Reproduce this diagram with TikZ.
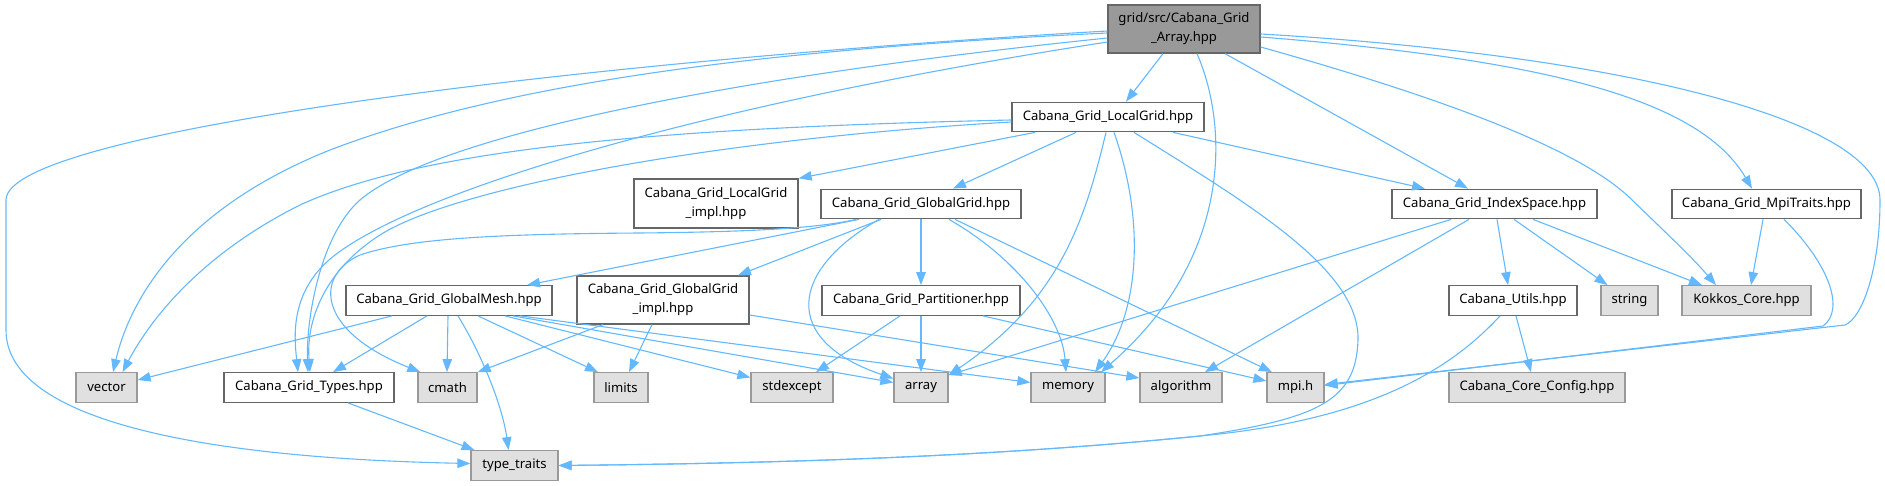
\documentclass[tikz,border=0pt]{standalone}
\usepackage{fontspec}
\setmainfont{Noto Sans}
\usetikzlibrary{arrows.meta}
\definecolor{edgecol}{HTML}{63B8FF}
\definecolor{boxborder}{HTML}{666666}
\definecolor{sysborder}{HTML}{999999}
\definecolor{sysfill}{HTML}{E0E0E0}
\definecolor{rootfill}{HTML}{999999}
\tikzset{
  box/.style={draw=boxborder, fill=white, line width=1.3pt, inner sep=0pt,
    font=\fontsize{13.1}{19}\selectfont, align=center, minimum height=29.5pt},
  sys/.style={box, draw=sysborder, fill=sysfill},
  rootbox/.style={box, draw=boxborder, fill=rootfill},
  dep/.style={draw=edgecol, line width=1.1pt, -{Triangle[length=13pt,width=9.5pt]}},
}
\begin{document}
\begin{tikzpicture}[x=1pt,y=-1pt]
\useasboundingbox (0,0) rectangle (1885,486);
% nodes
\node[rootbox, minimum width=152pt, minimum height=48pt] (root) at (1184,29) {grid/src/Cabana\_Grid\\\_Array.hpp};
\node[box, minimum width=192pt] (LG) at (1108,117) {Cabana\_Grid\_LocalGrid.hpp};
\node[box, minimum width=164pt, minimum height=49pt] (LGI) at (716,203.5) {Cabana\_Grid\_LocalGrid\\\_impl.hpp};
\node[box, minimum width=200pt] (GG) at (921,204) {Cabana\_Grid\_GlobalGrid.hpp};
\node[box, minimum width=205pt] (IS) at (1494.5,204) {Cabana\_Grid\_IndexSpace.hpp};
\node[box, minimum width=189pt] (MT) at (1766.5,204) {Cabana\_Grid\_MpiTraits.hpp};
\node[box, minimum width=206pt] (GM) at (449,300.5) {Cabana\_Grid\_GlobalMesh.hpp};
\node[box, minimum width=172pt, minimum height=48pt] (GGI) at (663,300) {Cabana\_Grid\_GlobalGrid\\\_impl.hpp};
\node[box, minimum width=198pt] (PT) at (921,300.5) {Cabana\_Grid\_Partitioner.hpp};
\node[box, minimum width=128pt] (UT) at (1513,300.5) {Cabana\_Utils.hpp};
\node[sys, minimum width=57pt] (str) at (1629.5,300.5) {string};
\node[sys, minimum width=129pt] (KC) at (1746.5,300.5) {Kokkos\_Core.hpp};
\node[sys, minimum width=61pt] (vector) at (106.5,387.5) {vector};
\node[box, minimum width=170pt] (Types) at (309,387.5) {Cabana\_Grid\_Types.hpp};
\node[sys, minimum width=59pt] (cmath) at (447.5,387.5) {cmath};
\node[sys, minimum width=54pt] (limits) at (621,387.5) {limits};
\node[sys, minimum width=82pt] (stdexcept) at (792,387.5) {stdexcept};
\node[sys, minimum width=54pt] (array) at (921,387.5) {array};
\node[sys, minimum width=74pt] (memory) at (1068,387.5) {memory};
\node[sys, minimum width=82pt] (algorithm) at (1181,387.5) {algorithm};
\node[sys, minimum width=57pt] (mpih) at (1295.5,387.5) {mpi.h};
\node[sys, minimum width=176pt] (CCC) at (1537,387.5) {Cabana\_Core\_Config.hpp};
\node[sys, minimum width=87pt] (tt) at (514.5,465.5) {type\_traits};
% root edges
\draw[dep] ([yshift=-2pt]root.west) .. controls (600,60) and (6,130) .. (6,200) -- (6,330) .. controls (6,420) and (200,458) .. ([yshift=2pt]tt.west);
\draw[dep] ([yshift=-4pt]root.west) .. controls (750,50) and (500,85) .. (330,150) .. controls (180,210) and (130,300) .. ([xshift=6.5pt]vector.north);
\draw[dep] ([yshift=-9pt]root.west) .. controls (700,80) and (430,140) .. (360,200) .. controls (320,235) and (306,320) .. ([xshift=-1pt]Types.north);
\draw[dep] ([yshift=-13pt]root.west) .. controls (700,105) and (420,190) .. (335,255) .. controls (290,290) and (294,335) .. ([xshift=-11pt]Types.north);
\draw[dep] ([xshift=-21pt]root.south) -- ([xshift=18pt]LG.north);
\draw[dep] ([xshift=13pt]root.south) .. controls (1230,130) and (1230,260) .. ([xshift=33pt]memory.north);
\draw[dep] ([xshift=41pt]root.south) -- ([xshift=-26.5pt]IS.north);
\draw[dep] ([yshift=-18pt]root.east) .. controls (1450,100) and (1580,150) .. (1630,198) .. controls (1665,232) and (1690,255) .. ([xshift=-30.5pt]KC.north);
\draw[dep] ([yshift=-8pt]root.east) .. controls (1550,60) and (1700,100) .. ([xshift=-14.5pt]MT.north);
\draw[dep] ([yshift=-5pt]root.east) .. controls (1620,55) and (1880,120) .. (1880,200) .. controls (1880,270) and (1862,318) .. (1845,325) -- ([yshift=3pt]mpih.east);
% MpiTraits
\draw[dep] ([xshift=17.5pt]MT.south) .. controls (1830,265) and (1845,310) .. (1823,326) -- ([yshift=2pt]mpih.east);
\draw[dep] ([xshift=-3.5pt]MT.south) -- ([xshift=4.5pt]KC.north);
% LocalGrid
\draw[dep] ([yshift=-3pt]LG.west) .. controls (650,128) and (420,150) .. (300,205) .. controls (200,255) and (150,320) .. ([xshift=16pt]vector.north);
\draw[dep] ([yshift=-5pt]LG.west) .. controls (700,140) and (450,190) .. (380,235) .. controls (325,270) and (306,320) .. ([xshift=1pt]Types.north);
\draw[dep] ([xshift=-73pt]LG.south) -- (LGI.north east);
\draw[dep] ([xshift=-32pt]LG.south) -- ([xshift=32pt]GG.north);
\draw[dep] ([xshift=-2pt]LG.south) .. controls (1085,220) and (1060,300) .. ([yshift=-3pt]array.north east);
\draw[dep] ([xshift=6pt]LG.south) .. controls (1145,220) and (1140,310) .. ([xshift=27pt]memory.north);
\draw[dep] ([xshift=65pt]LG.south) -- ([xshift=-69.5pt]IS.north);
\draw[dep] ([xshift=26pt]LG.south) .. controls (1250,205) and (1360,270) .. (1358,340) .. controls (1356,400) and (1320,418) .. (1200,436) .. controls (1000,456) and (800,463) .. (tt.east);
% Utils
\draw[dep] ([xshift=-13pt]UT.south) .. controls (1450,370) and (1370,420) .. (1200,436) .. controls (1000,456) and (800,463) .. (tt.east);
\draw[dep] ([xshift=3pt]UT.south) -- ([xshift=-6pt]CCC.north);
% GlobalGrid
\draw[dep] ([xshift=-65pt]GG.south) .. controls (815,229) and (740,232) .. (640,233) .. controls (500,234) and (410,238) .. (360,255) .. controls (315,275) and (315,330) .. ([xshift=3pt]cmath.north west);
\draw[dep] ([xshift=-62pt]GG.south) -- ([xshift=78pt]GM.north);
\draw[dep] ([xshift=-40pt]GG.south) -- ([xshift=75pt]GGI.north);
\draw[dep] ([xshift=-42pt]GG.south) .. controls (790,270) and (780,340) .. ([yshift=9pt]array.west);
\draw[dep] (GG.south) -- (PT.north);
\draw[dep] ([xshift=28pt]GG.south) .. controls (1020,260) and (1062,320) .. ([xshift=-2pt]memory.north);
\draw[dep] ([xshift=34pt]GG.south) -- ([xshift=-23.5pt]mpih.north);
% IndexSpace
\draw[dep] ([xshift=-43.5pt]IS.south) -- ([yshift=-3pt]array.north east);
\draw[dep] ([xshift=-25.5pt]IS.south) -- ([xshift=24pt]algorithm.north);
\draw[dep] ([xshift=2.5pt]IS.south) -- ([xshift=-5pt]UT.north);
\draw[dep] ([xshift=19.5pt]IS.south) -- ([xshift=-22pt]str.north);
\draw[dep] ([xshift=38.5pt]IS.south) -- ([xshift=-44.5pt]KC.north);
% GlobalMesh
\draw[dep] ([xshift=-57pt]GM.south) -- ([yshift=7.5pt]vector.east);
\draw[dep] ([xshift=-22pt]GM.south) -- ([xshift=24pt]Types.north);
\draw[dep] ([xshift=-1pt]GM.south) -- ([xshift=-0.5pt]cmath.north);
\draw[dep] ([xshift=9pt]GM.south) .. controls (485,360) and (503,410) .. ([xshift=-6pt]tt.north);
\draw[dep] ([xshift=29pt]GM.south) -- ([xshift=-23pt]limits.north);
\draw[dep] ([xshift=56pt]GM.south) -- ([yshift=10pt]stdexcept.west);
\draw[dep] ([xshift=64pt]GM.south) -- ([yshift=5pt]array.west);
\draw[dep] ([xshift=71pt]GM.south) -- ([yshift=5pt]memory.west);
% GlobalGrid_impl
\draw[dep] ([xshift=-60pt]GGI.south) -- (cmath.north east);
\draw[dep] ([xshift=-11pt]GGI.south) -- ([xshift=8pt]limits.north);
\draw[dep] ([yshift=-15pt]GGI.east) -- ([yshift=9.5pt]algorithm.west);
% Partitioner
\draw[dep] ([xshift=-21pt]PT.south) -- ([xshift=24pt]stdexcept.north);
\draw[dep] (PT.south) -- (array.north);
\draw[dep] ([xshift=62pt]PT.south) -- ([yshift=6.5pt]mpih.west);
% Types
\draw[dep] ([xshift=39pt]Types.south) -- ([xshift=-40pt]tt.north);
\end{tikzpicture}
\end{document}
